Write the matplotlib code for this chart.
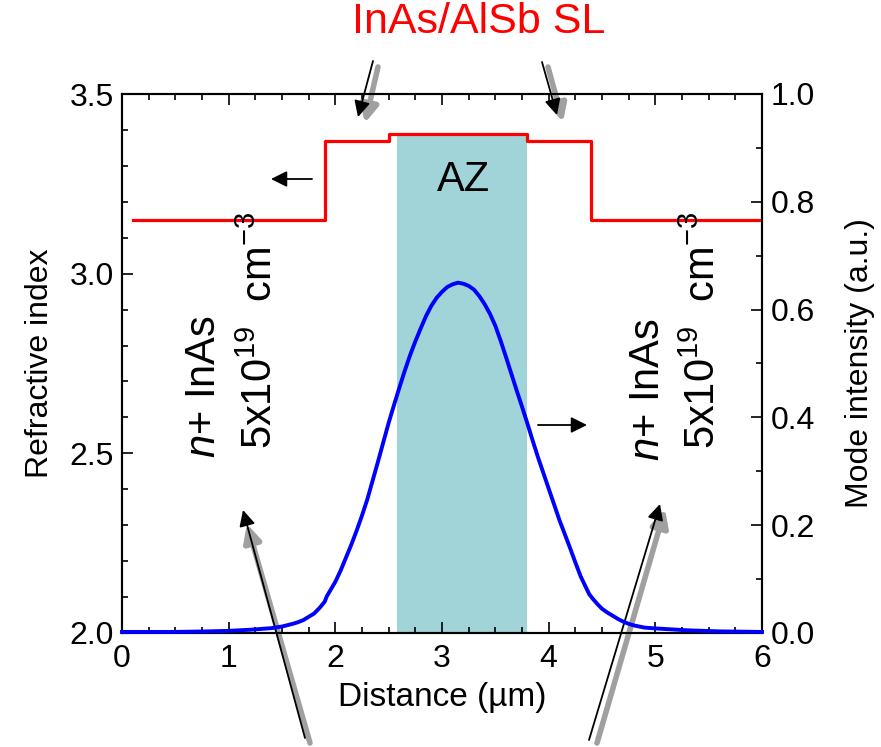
import matplotlib
matplotlib.use("Agg")
import matplotlib.pyplot as plt
from matplotlib.ticker import MultipleLocator, FormatStrFormatter

plt.rcParams['font.family'] = ['Liberation Sans', 'DejaVu Sans']
plt.rcParams['mathtext.fontset'] = 'custom'
plt.rcParams['mathtext.rm'] = 'Liberation Sans'
plt.rcParams['mathtext.it'] = 'Liberation Sans:italic'

# Refractive index profile (step edges, steps-post)
ri_x = [0.1, 1.9, 2.5, 3.8, 4.4, 6.0]
ri_n = [3.15, 3.37, 3.39, 3.37, 3.15, 3.15]

# Active zone
az_start, az_end = 2.58, 3.80
az_top = 3.39

# Mode intensity profile
mode_x = [0.0, 0.5, 0.8, 1.0, 1.2, 1.4, 1.5, 1.6, 1.65, 1.7, 1.75, 1.8, 1.85, 1.9, 1.92,
          2.0, 2.05, 2.1, 2.15, 2.2, 2.25, 2.3, 2.35, 2.4, 2.45, 2.5, 2.55, 2.6, 2.65,
          2.7, 2.75, 2.8, 2.85, 2.9, 2.95, 3.0, 3.05, 3.1, 3.15, 3.2, 3.25, 3.3, 3.35,
          3.4, 3.45, 3.5, 3.55, 3.6, 3.65, 3.7, 3.75, 3.8, 3.85, 3.9, 3.95, 4.0, 4.05,
          4.1, 4.15, 4.2, 4.25, 4.3, 4.38, 4.42, 4.46, 4.5, 4.55, 4.6, 4.65, 4.7, 4.75,
          4.8, 4.9, 5.0, 5.3, 5.6, 6.0]
mode_i = [0.002, 0.002, 0.003, 0.004, 0.006, 0.009, 0.012, 0.017, 0.020, 0.024, 0.030,
          0.036, 0.046, 0.058, 0.068, 0.095, 0.116, 0.140, 0.164, 0.190, 0.218, 0.248,
          0.283, 0.318, 0.354, 0.390, 0.423, 0.455, 0.486, 0.515, 0.541, 0.565, 0.588,
          0.607, 0.622, 0.633, 0.642, 0.647, 0.650, 0.648, 0.644, 0.637, 0.625, 0.610,
          0.592, 0.570, 0.542, 0.512, 0.481, 0.450, 0.420, 0.389, 0.357, 0.326, 0.297,
          0.268, 0.239, 0.210, 0.184, 0.158, 0.131, 0.105, 0.072, 0.062, 0.053, 0.045,
          0.038, 0.032, 0.026, 0.021, 0.017, 0.014, 0.010, 0.0085, 0.005, 0.003, 0.002]

W, H = 881, 747
fig = plt.figure(figsize=(W / 100, H / 100), dpi=100)
ax = fig.add_axes([122 / W, (H - 633) / H, (762 - 122) / W, (633 - 94) / H])
ax2 = ax.twinx()

ax.axvspan(az_start, az_end, ymin=0, ymax=(az_top - 2.0) / 1.5, color='#a0d4d8', lw=0, zorder=1)
ax.plot(ri_x, ri_n, drawstyle='steps-post', color='#ff0000', lw=2.3, zorder=3)
ax2.plot(mode_x, mode_i, color='#0000ff', lw=2.8, zorder=3, clip_on=False,
         solid_joinstyle='round')

ax.set_xlim(0, 6)
ax.set_ylim(2.0, 3.5)
ax2.set_ylim(0, 1.0)

ax.xaxis.set_major_locator(MultipleLocator(1))
ax.xaxis.set_minor_locator(MultipleLocator(0.25))
ax.yaxis.set_major_locator(MultipleLocator(0.5))
ax.yaxis.set_minor_locator(MultipleLocator(0.1))
ax2.yaxis.set_major_locator(MultipleLocator(0.2))
ax2.yaxis.set_minor_locator(MultipleLocator(0.1))
ax.yaxis.set_major_formatter(FormatStrFormatter('%.1f'))
ax2.yaxis.set_major_formatter(FormatStrFormatter('%.1f'))

ax.tick_params(which='both', direction='in', top=True, right=False, width=1.2, labelsize=23)
ax.tick_params(which='major', length=8)
ax.tick_params(which='minor', length=4.5)
ax2.tick_params(which='both', direction='in', width=1.2, labelsize=23)
ax2.tick_params(which='major', length=8)
ax2.tick_params(which='minor', length=4.5)
ax.tick_params(axis='x', pad=8)
ax.tick_params(axis='y', pad=6)
ax2.tick_params(axis='y', pad=6)
for a in (ax, ax2):
    for s in a.spines.values():
        s.set_linewidth(1.5)

ax.set_xlabel('Distance (µm)', fontsize=24, labelpad=6)
ax.set_ylabel('Refractive index', fontsize=23, labelpad=10)
ax2.set_ylabel('Mode intensity (a.u.)', fontsize=23, labelpad=22)

def fp(px, py):
    return (px, H - py)

# Texts
fig.text(479 / W, 1 - 22 / H, 'InAs/AlSb SL', color='#ff0000', fontsize=31, ha='center', va='center')
fig.text(463 / W, 1 - 180 / H, 'AZ', color='black', fontsize=30, ha='center', va='center')
fig.text(204 / W, 1 - 387 / H, r'$n$+ InAs', fontsize=30, rotation=90, ha='center', va='center')
fig.text(261 / W, 1 - 330 / H, r'5x10$^{19}$  cm$^{-3}$', fontsize=30, rotation=90, ha='center', va='center')
fig.text(648 / W, 1 - 390 / H, r'$n$+ InAs', fontsize=30, rotation=90, ha='center', va='center')
fig.text(704 / W, 1 - 330 / H, r'5x10$^{19}$  cm$^{-3}$', fontsize=30, rotation=90, ha='center', va='center')

# Arrows: gray shadow then black
def arrow(tail, head, shadow_tail=None, shadow_head=None):
    if shadow_tail is not None:
        ax.annotate('', xy=fp(*shadow_head), xytext=fp(*shadow_tail),
                    xycoords='figure pixels', textcoords='figure pixels', annotation_clip=False,
                    arrowprops=dict(arrowstyle='-|>', color='#a0a0a0', lw=4, mutation_scale=26,
                                    shrinkA=0, shrinkB=0))
    ax.annotate('', xy=fp(*head), xytext=fp(*tail),
                xycoords='figure pixels', textcoords='figure pixels', annotation_clip=False,
                arrowprops=dict(arrowstyle='-|>', color='black', lw=1.3, mutation_scale=24,
                                shrinkA=0, shrinkB=0))

arrow((373, 61), (358, 117), (378, 67), (365, 123))
arrow((542, 62), (557, 115), (548, 67), (563, 122))
arrow((305, 738), (243, 510), (310, 743), (247, 524))
arrow((589, 740), (660, 504), (597, 743), (665, 509))
arrow((312, 179), (271, 179))
arrow((538, 425), (587, 425))

fig.savefig('out.png', dpi=100)
